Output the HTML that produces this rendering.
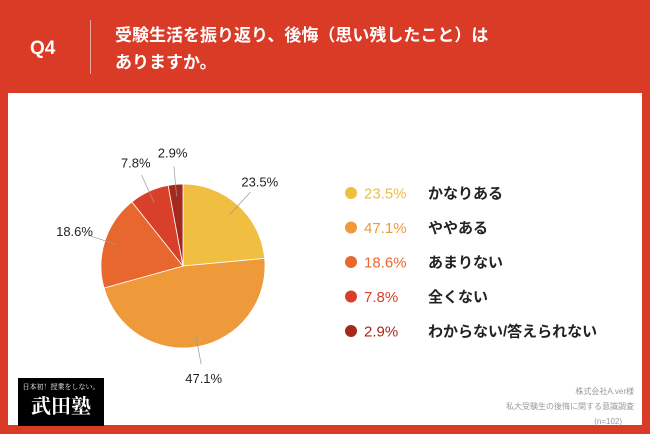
<!DOCTYPE html>
<html><head><meta charset="utf-8"><style>
body{margin:0;width:650px;height:434px;background:#D93B27;font-family:"Liberation Sans","Noto Sans CJK JP",sans-serif;position:relative;overflow:hidden}
.abs{position:absolute}
</style></head><body>
<div class="abs" style="left:30px;top:38px;color:#fff;font-size:19px;font-weight:bold">Q4</div>
<div class="abs" style="left:90px;top:20px;width:1px;height:54px;background:#eea79c"></div>
<div class="abs" style="left:115px;top:22px;color:#fff;font-size:17px;font-weight:bold;line-height:27px">受験生活を振り返り、後悔（思い残したこと）は<br>ありますか。</div>
<div class="abs" style="left:8px;top:93px;width:634px;height:332px;background:#fff"></div>
<svg class="abs" style="left:0;top:0" width="650" height="434" id="svg"></svg>
<div class="abs" style="left:18px;top:378px;width:86px;height:48px;background:#000;color:#fff;text-align:center;overflow:hidden">
<div style="font-size:7px;white-space:nowrap;font-family:'Noto Serif CJK SC',serif;margin-top:4px">日本初！授業をしない。</div>
<div style="font-size:20px;font-weight:bold;font-family:'Noto Serif CJK SC',serif;line-height:26px">武田塾</div></div>
<div class="abs" style="right:16px;top:384px;color:#999;font-size:8px;line-height:15px;text-align:right">株式会社A.ver様<br>私大受験生の後悔に関する意識調査<br><span style="margin-right:12px">(n=102)</span></div>
<script>
const categories=["かなりある","ややある","あまりない","全くない","わからない/答えられない"];
const values=[23.5,47.1,18.6,7.8,2.9];
const colors=["#F0BE41","#EE9A3A","#E8672F","#D9402A","#A4291C"];
const svg=document.getElementById('svg');
const NS="http://www.w3.org/2000/svg";
const cx=183,cy=266,r=82;
const total=values.reduce((a,b)=>a+b,0);
function pt(a,rr){return [cx+rr*Math.sin(a),cy-rr*Math.cos(a)];}
let acc=0;
values.forEach((v,i)=>{
 const a0=acc/total*2*Math.PI;acc+=v;const a1=acc/total*2*Math.PI;
 const p0=pt(a0,r),p1=pt(a1,r);
 const p=document.createElementNS(NS,'path');
 p.setAttribute('d',`M${cx},${cy}L${p0[0]},${p0[1]}A${r},${r} 0 ${a1-a0>Math.PI?1:0} 1 ${p1[0]},${p1[1]}Z`);
 p.setAttribute('fill',colors[i]);p.setAttribute('stroke','#fff');p.setAttribute('stroke-width','0.8');
 
 
 svg.appendChild(p);
 const am=(a0+a1)/2;
 const l0=pt(am,r*0.85),l1=pt(am,r+18);
 const ln=document.createElementNS(NS,'line');
 ln.setAttribute('x1',l0[0]);ln.setAttribute('y1',l0[1]);ln.setAttribute('x2',l1[0]);ln.setAttribute('y2',l1[1]);
 ln.setAttribute('stroke','#999');ln.setAttribute('stroke-width','0.7');
 
 
 svg.appendChild(ln);
 const lp=pt(am,r+32);
 const t=document.createElementNS(NS,'text');
 t.setAttribute('x',lp[0]);t.setAttribute('y',lp[1]+5);t.setAttribute('text-anchor','middle');
 t.setAttribute('font-size','13');t.setAttribute('fill','#222');
 t.textContent=v.toFixed(1)+'%';
 
 
 svg.appendChild(t);
 const y=193+i*34.5;
 const c=document.createElementNS(NS,'circle');
 c.setAttribute('cx',351);c.setAttribute('cy',y);c.setAttribute('r',6);c.setAttribute('fill',colors[i]);
 
 
 svg.appendChild(c);
 const tp=document.createElementNS(NS,'text');
 tp.setAttribute('x',364);tp.setAttribute('y',y+5.5);tp.setAttribute('font-size','15');tp.setAttribute('fill',colors[i]);
 tp.textContent=v.toFixed(1)+'%';
 
 
 svg.appendChild(tp);
 const tl=document.createElementNS(NS,'text');
 tl.setAttribute('x',428);tl.setAttribute('y',y+5.5);tl.setAttribute('font-size','15');tl.setAttribute('fill','#222');tl.setAttribute('font-weight','bold');
 tl.textContent=categories[i];
 
 
 svg.appendChild(tl);
});
</script>
</body></html>
